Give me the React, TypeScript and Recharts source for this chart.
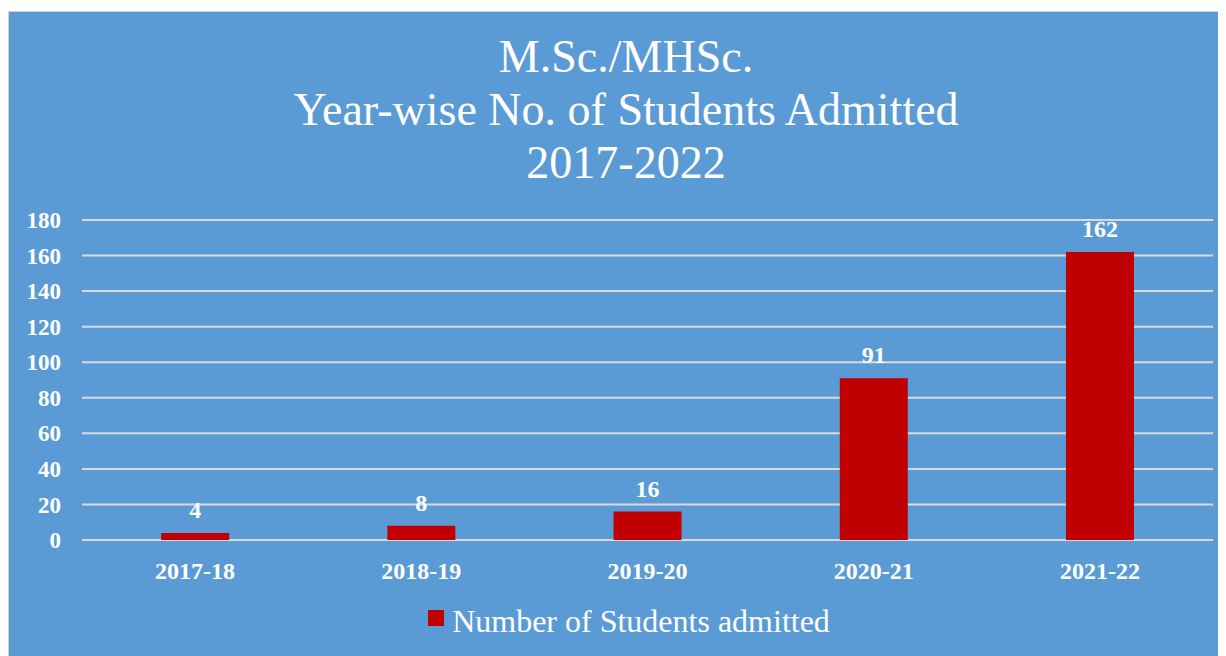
import { BarChart, Bar, XAxis, YAxis, CartesianGrid, Legend, LabelList } from "recharts";

const years = ["2017-18", "2018-19", "2019-20", "2020-21", "2021-22"];
const admitted = [4, 8, 16, 91, 162];
const yTicks = [0, 20, 40, 60, 80, 100, 120, 140, 160, 180];
const titleLines = ["M.Sc./MHSc.", "Year-wise No. of Students Admitted", "2017-2022"];
const seriesName = "Number of Students admitted";

const data = years.map((year, i) => ({ year, value: admitted[i] }));

const serif = "'Liberation Serif', 'DejaVu Serif', serif";

const LegendContent = () => (
  <div style={{ display: "flex", justifyContent: "center", alignItems: "center", fontFamily: serif }}>
    <span style={{ width: 16, height: 16, background: "#C00000", marginRight: 8, marginTop: -6 }} />
    <span style={{ color: "#fff", fontSize: 32, lineHeight: "36px" }}>{seriesName}</span>
  </div>
);

export default function App() {
  return (
    <div
      style={{
        position: "relative",
        width: 1216,
        height: 644,
        marginTop: 3,
        background: "#5B9BD5",
        borderTop: "1px solid #D0D0D0",
        borderLeft: "1px solid #D0D0D0",
        fontFamily: serif,
      }}
    >
      <div
        style={{
          position: "absolute",
          top: 18,
          left: 0,
          width: 1234,
          textAlign: "center",
          color: "#fff",
          fontSize: 46,
          lineHeight: "53px",
        }}
      >
        {titleLines.map((t) => (
          <div key={t}>{t}</div>
        ))}
      </div>
      <BarChart
        width={1216}
        height={644}
        data={data}
        margin={{ top: 208, right: 12, left: 0, bottom: 0 }}
        barCategoryGap="35%"
      >
        <CartesianGrid vertical={false} stroke="#D9D9D9" strokeWidth={2} />
        <XAxis
          dataKey="year"
          axisLine={false}
          tickLine={false}
          tickMargin={16}
          height={80}
          tick={{ fill: "#fff", fontSize: 24, fontWeight: 700, fontFamily: serif }}
        />
        <YAxis
          domain={[0, 180]}
          ticks={yTicks}
          width={73}
          axisLine={false}
          tickLine={false}
          tickMargin={15}
          tick={{ fill: "#fff", fontSize: 23, fontWeight: 700, fontFamily: serif }}
        />
        <Legend
          verticalAlign="bottom"
          content={<LegendContent />}
          wrapperStyle={{ left: 0, width: 1240, bottom: 17 }}
        />
        <Bar dataKey="value" name={seriesName} fill="#C00000" isAnimationActive={false}>
          <LabelList
            dataKey="value"
            position="top"
            offset={15}
            fill="#fff"
            fontSize={24}
            fontWeight={700}
            fontFamily={serif}
          />
        </Bar>
      </BarChart>
    </div>
  );
}
